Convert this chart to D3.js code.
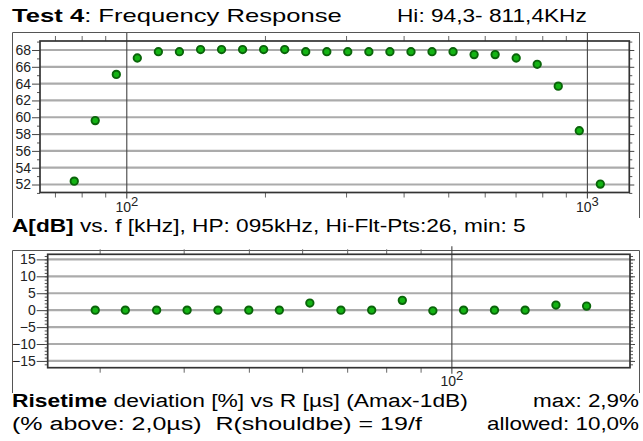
<!DOCTYPE html>
<html><head><meta charset="utf-8">
<script src="https://cdn.jsdelivr.net/npm/d3@7"></script>
<style>
body{margin:0;background:#fff;}
svg{display:block;font-family:"Liberation Sans",Arial,sans-serif;}
</style></head>
<body><svg id="c" width="643" height="441"></svg>
<script>
// ---- data ----
const freqKHz = [76.9, 85.4, 94.9, 105.4, 117.1, 130.1, 144.6, 160.6, 178.4, 198.2, 220.2, 244.6, 271.8, 301.8, 335.4, 372.6, 414.0, 459.9, 510.9, 567.6, 630.5, 700.5, 778.1, 864.4, 960.3, 1066.7];
const gainDB = [52.4, 59.6, 65.1, 67.05, 67.8, 67.8, 68.05, 68.05, 68.05, 68.05, 68.05, 67.8, 67.8, 67.8, 67.8, 67.8, 67.8, 67.8, 67.8, 67.45, 67.45, 67.05, 66.3, 63.7, 58.4, 52.05];
const riseR = [29.5, 32.7, 36.4, 40.4, 44.9, 49.9, 55.4, 61.5, 68.4, 76.0, 84.4, 93.7, 104.1, 115.7, 128.5, 142.8, 158.6];
const riseDev = [0, 0, 0, 0, 0, 0, 0, 2.1, 0, 0, 2.9, -0.2, 0, 0, 0, 1.5, 1.2];
const topYTicks = [52, 54, 56, 58, 60, 62, 64, 66, 68];
const topXMinor = [70, 80, 90, 200, 300, 400, 500, 600, 700, 800, 900];
const topXMajor = [100, 1000];
const botYTicks = [15, 10, 5, 0, -5, -10, -15];
const botXMinor = [30, 40, 50, 60, 70, 80, 90];
const botXMajor = [100];

const svg = d3.select("#c");
const frameCol = "#555", axisCol = "#333", gridCol = "#ababab";

function panelFrame(x0, y0, x1, y1){
  svg.append("path").attr("d", `M${x0},${y1}V${y0}H${x1}V${y1}`)
    .attr("fill","none").attr("stroke",frameCol).attr("stroke-width",1);
}
panelFrame(12.5, 32.5, 639.5, 218);
panelFrame(12.5, 250.5, 639.5, 393);

function chart(cfg){
  const {x, y, yTicks, yMinor, xMinor, xMajor, xs, ys, labelY, tick} = cfg;
  const [L, R] = x.range(); const [B, T] = y.range();
  const g = svg.append("g");
  g.selectAll(".gy").data(yTicks).join("line")
    .attr("x1", L).attr("x2", R).attr("y1", d=>y(d)).attr("y2", d=>y(d))
    .attr("stroke", gridCol).attr("stroke-width", 2.2);
  g.selectAll(".gx").data(xMajor).join("line")
    .attr("x1", d=>x(d)).attr("x2", d=>x(d)).attr("y1", T-8).attr("y2", B+6)
    .attr("stroke", "#444").attr("stroke-width", 1.1);
  g.selectAll(".mt").data(xMinor).join("line")
    .attr("x1", d=>x(d)).attr("x2", d=>x(d)).attr("y1", T-5).attr("y2", T)
    .attr("stroke", "#666").attr("stroke-width", 1);
  g.selectAll(".mb").data(xMinor).join("line")
    .attr("x1", d=>x(d)).attr("x2", d=>x(d)).attr("y1", B).attr("y2", B+5)
    .attr("stroke", "#666").attr("stroke-width", 1);
  const axL = d3.axisLeft(y).tickValues(yTicks).tickSize(tick).tickPadding(1).tickFormat(d3.format("d"));
  const gl = g.append("g").attr("transform", `translate(${L},0)`).call(axL);
  gl.select(".domain").remove();
  gl.selectAll("line").attr("stroke", "#444");
  gl.selectAll("text").attr("font-size", 14).attr("fill","#222").attr("font-family","'Liberation Sans',Arial,sans-serif");
  const axLm = d3.axisLeft(y).tickValues(yMinor).tickSize(3).tickFormat("");
  const glm = g.append("g").attr("transform", `translate(${L},0)`).call(axLm);
  glm.select(".domain").remove(); glm.selectAll("line").attr("stroke","#555");
  const axR = d3.axisRight(y).tickValues(yTicks).tickSize(5).tickFormat("");
  const gr = g.append("g").attr("transform", `translate(${R},0)`).call(axR);
  gr.select(".domain").remove(); gr.selectAll("line").attr("stroke","#444");
  const axRm = d3.axisRight(y).tickValues(yMinor).tickSize(3).tickFormat("");
  const grm = g.append("g").attr("transform", `translate(${R},0)`).call(axRm);
  grm.select(".domain").remove(); grm.selectAll("line").attr("stroke","#555");
  g.append("rect").attr("x", L).attr("y", T).attr("width", R-L).attr("height", B-T)
    .attr("fill","none").attr("stroke", axisCol).attr("stroke-width", 1.7);
  xMajor.forEach(v=>{
    const t = g.append("text").attr("x", x(v)).attr("y", labelY).attr("text-anchor","middle")
      .attr("font-size", 14).attr("fill","#222");
    t.append("tspan").text("10");
    t.append("tspan").attr("dy", -6).attr("font-size", 13).text(String(Math.round(Math.log10(v))));
  });
  g.selectAll(".pt").data(xs.map((d,i)=>[d, ys[i]])).join("circle")
    .attr("cx", d=>x(d[0])).attr("cy", d=>y(d[1])).attr("r", 3.7)
    .attr("fill", "#14b414").attr("stroke", "#0a640a").attr("stroke-width", 1.9);
}

const xTop = d3.scaleLog().domain([64.8, 1233]).range([40, 629.3]);
const yTop = d3.scaleLinear().domain([51.05, 69.07]).range([192.5, 41]);
chart({x:xTop, y:yTop, yTicks:topYTicks, yMinor:d3.range(51,70,2), xMinor:topXMinor, xMajor:topXMajor,
  xs:freqKHz, ys:gainDB, labelY:212, tick:8});

const xBot = d3.scaleLog().domain([25.07, 184]).range([47.7, 630]);
const yBot = d3.scaleLinear().domain([-17, 16.5]).range([367.7, 254.3]);
chart({x:xBot, y:yBot, yTicks:botYTicks, yMinor:d3.range(-16,17,1), xMinor:botXMinor, xMajor:botXMajor,
  xs:riseR, ys:riseDev, labelY:386, tick:11});

// text placed at (x,y), stretched horizontally to a given width
function rich(x, y, parts, width, anchor){
  const g = svg.append("g");
  const t = g.append("text").attr("x", 0).attr("y", 0).attr("font-size", 19)
    .attr("fill","#000").attr("text-anchor", anchor||"start").style("white-space","pre");
  parts.forEach(p=>t.append("tspan").attr("font-weight", p[1]?"bold":"normal").text(p[0]));
  const w = t.node().getComputedTextLength();
  const sx = width / w;
  g.attr("transform", `translate(${x},${y}) scale(${sx},1)`);
  return t;
}
rich(12, 22, [["Test 4",1],[": Frequency Response",0]], 330);
rich(397, 22, [["Hi: 94,3- 811,4KHz",0]], 190);
rich(12, 232, [["A[dB]",1],[" vs. f [kHz], HP: 095kHz, Hi-Flt-Pts:26, min: 5",0]], 514);
rich(12, 407, [["Risetime",1],[" deviation [%] vs R [µs] (Amax-1dB)",0]], 456);
rich(639, 407, [["max: 2,9%",0]], 106, "end");
rich(12, 430, [["(% above: 2,0µs)  R(shouldbe) = 19/f",0]], 410);
rich(639, 430, [["allowed: 10,0%",0]], 152, "end");
</script></body></html>
